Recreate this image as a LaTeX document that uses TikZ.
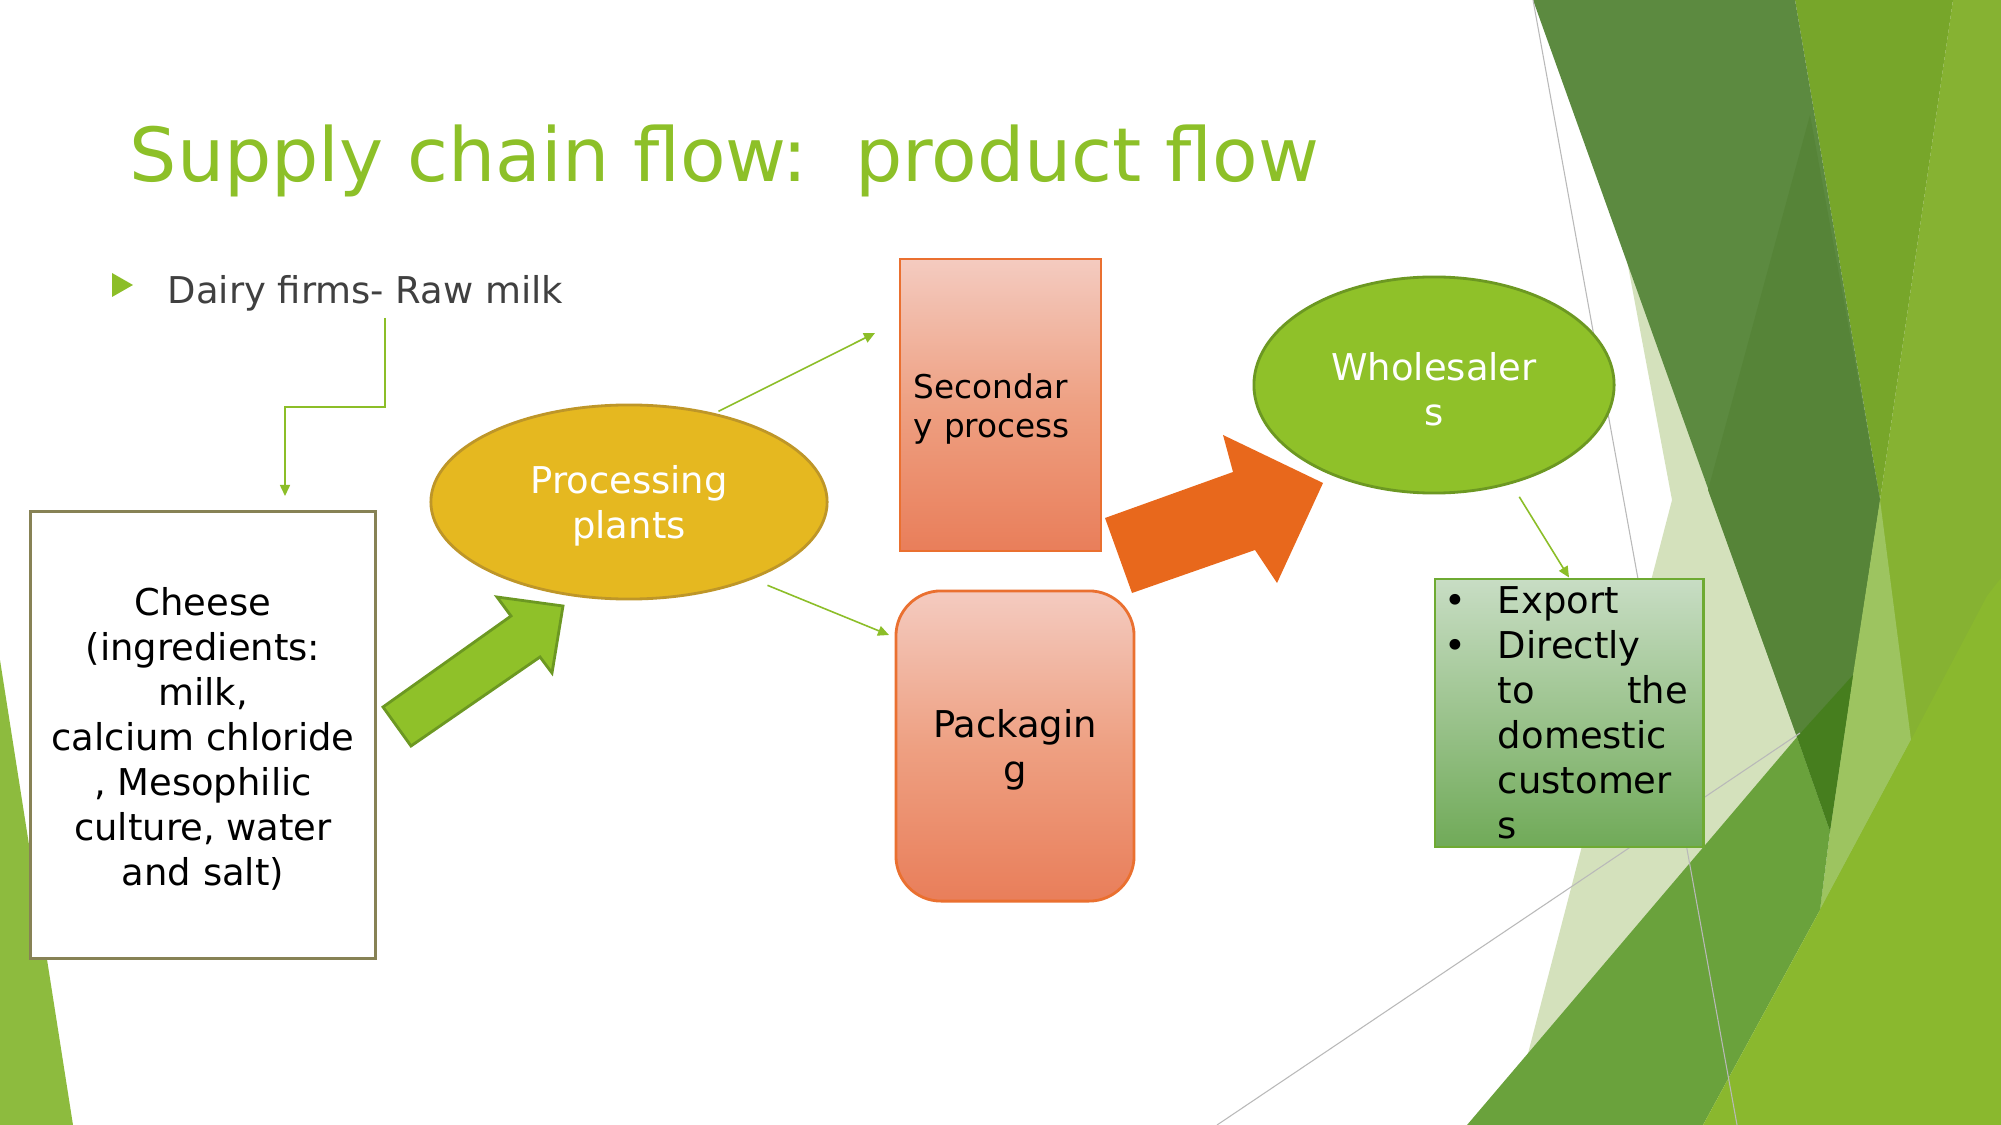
\documentclass[tikz,border=0pt]{standalone}
\usepackage{fontspec}
\setmainfont{DejaVu Sans}
\usetikzlibrary{arrows.meta,calc,shapes.geometric}

\definecolor{titlegreen}{RGB}{141,192,40}
\definecolor{textgray}{RGB}{64,64,64}
\definecolor{flowgreen}{RGB}{140,190,40}
\definecolor{olivebox}{RGB}{135,130,85}
\definecolor{goldfill}{RGB}{229,184,32}
\definecolor{golddraw}{RGB}{190,150,40}
\definecolor{leafgreen}{RGB}{143,193,41}
\definecolor{leafdraw}{RGB}{108,152,34}
\definecolor{salmontop}{RGB}{244,203,192}
\definecolor{salmonmid}{RGB}{238,160,130}
\definecolor{salmonbot}{RGB}{233,126,90}
\definecolor{salmondraw}{RGB}{234,112,48}
\definecolor{flame}{RGB}{232,104,28}
\definecolor{mosstop}{RGB}{200,221,196}
\definecolor{mossbot}{RGB}{112,170,88}
\definecolor{mossdraw}{RGB}{110,170,50}
\definecolor{facetdark}{RGB}{92,138,64}
\definecolor{facetdeep}{RGB}{86,132,56}
\definecolor{facetdeepest}{RGB}{70,126,30}
\definecolor{facetmid}{RGB}{119,166,42}
\definecolor{facetlight}{RGB}{134,178,50}
\definecolor{facetbright}{RGB}{138,184,46}
\definecolor{facetmoss}{RGB}{106,162,60}
\definecolor{facetpale}{RGB}{212,225,188}
\definecolor{facetlime}{RGB}{157,196,96}
\definecolor{facetleft}{RGB}{141,187,62}

% first-line strut: drops the text block a little inside its shape
\newcommand{\padtop}{\rule{0pt}{\dimexpr0.76em+0.08cm\relax}}

\begin{document}
\begin{tikzpicture}[x=0.01cm,y=-0.01cm,
  body/.style={font=\fontsize{10.5}{12.8}\selectfont,inner sep=0pt,align=center},
  flowline/.style={draw=flowgreen,line width=0.45pt,-{Triangle[length=0.11cm,width=0.1cm]}},
  salmonbox/.style={draw=salmondraw,line width=0.8pt,top color=salmontop,bottom color=salmonbot,middle color=salmonmid},
  facetline/.style={draw=gray!55,line width=0.3pt}]
% Slide background
\useasboundingbox (0,0) rectangle (2001,1125);
\fill[white] (0,0) rectangle (2001,1125);
\fill[facetleft] (0,660) -- (73,1125) -- (0,1125) -- cycle;
% Facets on the right
\fill[facetpale] (1625,250) -- (1672,500) -- (1525,1065) -- (1797,737) -- (1712,500) -- cycle;
\fill[facetlight] (1953,0) -- (2001,0) -- (2001,1125) -- (1820,910) -- (1880,500) -- cycle;
\fill[facetmid] (1795,0) -- (1953,0) -- (1880,500) -- cycle;
\fill[facetdark] (1533,0) -- (1795,0) -- (1880,500) -- (1830,831) -- (1797,737) -- cycle;
\fill[facetdeep] (1810,115) -- (1880,500) -- (1853,675) -- (1797,737) -- (1708,490) -- cycle;
\fill[facetlime] (1880,500) -- (1911,740) -- (1820,910) -- (1830,831) -- (1853,675) -- cycle;
\fill[facetmoss] (1467,1125) -- (1797,737) -- (1830,831) -- (1820,910) -- (1703,1125) -- cycle;
\fill[facetdeepest] (1797,737) -- (1853,675) -- (1830,831) -- cycle;
\fill[facetbright] (1703,1125) -- (1820,910) -- (1911,740) -- (1987,596) -- (2001,578) -- (2001,1125) -- cycle;
\draw[facetline] (1533,0) -- (1737,1125);
\draw[facetline] (1217,1125) -- (1800,733);

% Title and bullet
\node[font=\fontsize{21.2}{26}\selectfont,text=titlegreen,anchor=base west,inner sep=0pt] (title) at (129,182) {Supply chain flow:\ \ product flow};
\fill[flowgreen] (112,273) -- (133,285) -- (112,297) -- cycle;
\node[body,text=textgray,anchor=base west] (dairy) at (167,304) {Dairy firms- Raw milk};

% Flow shapes
\node[body,draw=olivebox,fill=white,line width=0.8pt,minimum width=3.44cm,minimum height=4.46cm] (cheese) at (203,735)
  {\padtop Cheese\\(ingredients:\\milk,\\calcium chloride\\, Mesophilic\\culture, water\\and salt)};
\node[body,ellipse,draw=golddraw,fill=goldfill,text=white,line width=0.8pt,minimum width=3.96cm,minimum height=1.94cm] (proc) at (629,502) {\padtop Processing\\plants};
\node[salmonbox,minimum width=2.01cm,minimum height=2.92cm,text width=1.73cm,inner xsep=0.14cm,inner ysep=0pt,align=left,font=\fontsize{9.3}{11.2}\selectfont] (sec) at (1000.5,405) {\padtop Secondar\\y process};
\node[salmonbox,body,rounded corners=0.45cm,minimum width=2.38cm,minimum height=3.10cm] (pack) at (1015,746) {\padtop Packagin\\g};
\node[body,ellipse,draw=leafdraw,fill=leafgreen,text=white,line width=0.8pt,minimum width=3.6cm,minimum height=2.16cm] (whole) at (1434,385) {\padtop Wholesaler\\s};
\node[body,draw=mossdraw,line width=0.8pt,top color=mosstop,bottom color=mossbot,minimum width=2.68cm,minimum height=2.68cm,text width=2.48cm,inner xsep=0.1cm,align=left] (exp) at (1569,713)
  {\makebox[0.53cm][l]{•}Export\\\makebox[0.53cm][l]{•}Directly\\\hspace*{0.53cm}\makebox[1.9cm][s]{to\hfill the}\\\hspace*{0.53cm}domestic\\\hspace*{0.53cm}customer\\\hspace*{0.53cm}s};

% Block arrows
\filldraw[fill=leafgreen,draw=leafdraw,line width=0.8pt] (383,707) -- (511,616) -- (497,597) -- (563,606) -- (552,673) -- (540,657) -- (411,746) -- cycle;
\fill[flame] (1105,518) -- (1233,472) -- (1223,435) -- (1323,483) -- (1277,583) -- (1255,550) -- (1132,593) -- cycle;

% Thin connectors
\coordinate (milkdrop) at (385,318);
\coordinate (cheesedrop) at (285,496);
\coordinate (secin) at (875,333);
\coordinate (packin) at (889,635);
\draw[flowline] (milkdrop) |- ($(milkdrop)!.5!(cheesedrop)$) -| (cheesedrop);
\draw[flowline,shorten <=0.04cm] (proc.46) -- (secin);
\draw[flowline,shorten <=0.16cm] (proc.-32) -- (packin);
\draw[flowline,shorten <=0.15cm] (whole.-52) -- (exp.north);
\end{tikzpicture}
\end{document}
